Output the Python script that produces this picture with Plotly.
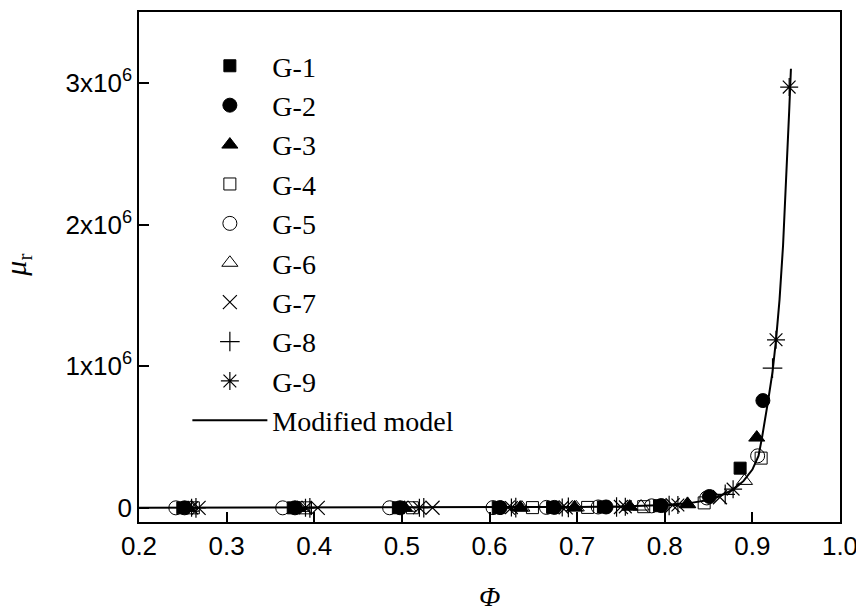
import plotly.graph_objects as go

# ---- data ----
g1_x = [0.250, 0.376, 0.496, 0.610, 0.672, 0.730, 0.794, 0.886]
g1_y = [0, 0, 500, 1500, 3000, 6000, 15000, 280000]
g2_x = [0.252, 0.378, 0.498, 0.612, 0.674, 0.733, 0.796, 0.851, 0.912]
g2_y = [0, 0, 500, 1500, 3000, 6000, 16000, 80000, 757000]
g3_x = [0.256, 0.381, 0.503, 0.635, 0.697, 0.760, 0.826, 0.905]
g3_y = [0, 0, 500, 1500, 3000, 8000, 25000, 496000]
g4_x = [0.262, 0.390, 0.512, 0.649, 0.712, 0.776, 0.845, 0.910]
g4_y = [0, 0, 500, 1500, 3000, 8000, 35000, 351000]
g5_x = [0.242, 0.364, 0.486, 0.604, 0.665, 0.724, 0.785, 0.848, 0.906]
g5_y = [0, 0, 500, 1500, 3000, 6000, 14000, 70000, 367000]
g6_x = [0.259, 0.386, 0.507, 0.637, 0.699, 0.773, 0.826, 0.891]
g6_y = [0, 0, 500, 1500, 3000, 9000, 28000, 190000]
g7_x = [0.268, 0.404, 0.535, 0.621, 0.687, 0.750, 0.809, 0.863]
g7_y = [0, 0, 500, 1500, 3000, 6000, 18000, 75000]
g8_x = [0.265, 0.395, 0.525, 0.630, 0.690, 0.745, 0.805, 0.869, 0.923]
g8_y = [0, 0, 500, 1500, 3000, 6000, 17000, 95000, 986000]
g9_x = [0.260, 0.390, 0.520, 0.625, 0.683, 0.755, 0.815, 0.878, 0.927, 0.942]
g9_y = [0, 0, 500, 1500, 3000, 7000, 20000, 132000, 1186000, 2970000]

model_x = [0.2, 0.5, 0.6, 0.7, 0.75, 0.8, 0.83, 0.85, 0.862, 0.879, 0.89, 0.9,
           0.907, 0.911, 0.918, 0.923, 0.927, 0.931, 0.935, 0.939, 0.942, 0.944]
model_y = [0, 1000, 2500, 6000, 10000, 20000, 35000, 55000, 80000, 132000, 190000,
           270000, 367000, 496000, 757000, 960000, 1186000, 1470000, 1850000,
           2350000, 2800000, 3100000]

y_tickvals = [0, 1e6, 2e6, 3e6]
y_ticktext = ["0", "1x10<sup>6</sup>", "2x10<sup>6</sup>", "3x10<sup>6</sup>"]
x_tickvals = [0.2, 0.3, 0.4, 0.5, 0.6, 0.7, 0.8, 0.9, 1.0]
x_ticktext = ["0.2", "0.3", "0.4", "0.5", "0.6", "0.7", "0.8", "0.9", "1.0"]
x_title = "<i>Φ</i>"
y_title = "<i>μ</i><sub>r</sub>"

series = [
    ("G-1", g1_x, g1_y, "square", 12, 1),
    ("G-2", g2_x, g2_y, "circle", 14, 1),
    ("G-3", g3_x, g3_y, "triangle-up", 14, 1),
    ("G-4", g4_x, g4_y, "square-open", 12, 1),
    ("G-5", g5_x, g5_y, "circle-open", 14, 1),
    ("G-6", g6_x, g6_y, "triangle-up-open", 14, 1),
    ("G-7", g7_x, g7_y, "x-thin-open", 14, 1.2),
    ("G-8", g8_x, g8_y, "cross-thin-open", 14, 1.2),
    ("G-9", g9_x, g9_y, "asterisk-open", 15, 1.2),
]

fig = go.Figure()
for i, (name, xs, ys, sym, size, lw) in enumerate(series):
    fig.add_trace(go.Scatter(
        x=xs, y=ys, mode="markers", name=name, legendgroup=name,
        marker=dict(symbol=sym, size=size, color="black",
                    line=dict(color="black", width=lw)),
    ))

fig.add_trace(go.Scatter(
    x=model_x, y=model_y, mode="lines", name="Modified model", legendgroup="model",
    line=dict(color="black", width=2),
))

serif = "Liberation Serif, Times New Roman"
fig.update_layout(
    width=864, height=611,
    margin=dict(l=131, r=32, t=4, b=97, autoexpand=False),
    paper_bgcolor="white", plot_bgcolor="white",
    font=dict(family="Liberation Sans, Arial", color="black", size=26),
    showlegend=True,
    legend=dict(
        x=0.069, y=0.943, xanchor="left", yanchor="top",
        bgcolor="rgba(0,0,0,0)",
        font=dict(family=serif, size=28, color="black"),
        tracegroupgap=0, itemwidth=75,
    ),
    annotations=[
        dict(text=x_title, xref="paper", yref="paper", x=0.5, y=-0.147,
             xanchor="center", yanchor="middle", showarrow=False,
             font=dict(family=serif, size=28, color="black")),
        dict(text=y_title, xref="paper", yref="paper", x=-0.173, y=0.504,
             xanchor="center", yanchor="middle", showarrow=False, textangle=-90,
             font=dict(family=serif, size=30, color="black")),
    ],
)
fig.update_xaxes(
    range=[0.2, 1.0], tickvals=x_tickvals, ticktext=x_ticktext, automargin=False,
    ticks="inside", ticklen=10, tickwidth=1.5, tickcolor="black",
    showline=True, linecolor="black", linewidth=1.5, mirror=True,
    showgrid=False, zeroline=False,
    tickfont=dict(family="Liberation Sans, Arial", size=26),
)
fig.update_yaxes(
    range=[-0.1e6, 3.5e6], tickvals=y_tickvals, ticktext=y_ticktext, automargin=False,
    ticks="inside", ticklen=10, tickwidth=1.5, tickcolor="black",
    showline=True, linecolor="black", linewidth=1.5, mirror=True,
    showgrid=False, zeroline=False,
    tickfont=dict(family="Liberation Sans, Arial", size=26),
)

fig.write_html("out.html")
